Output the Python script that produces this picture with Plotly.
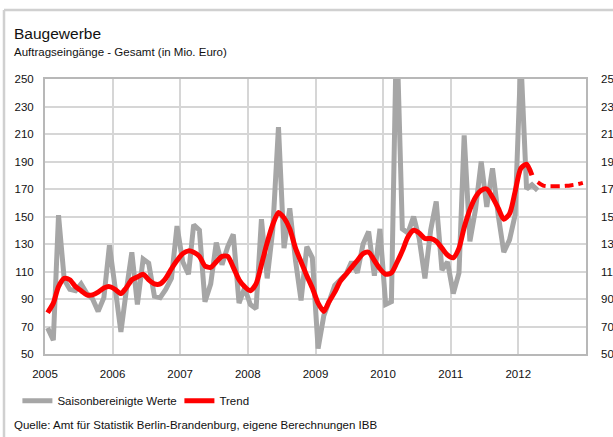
import pandas as pd
import plotly.graph_objects as go

# ---- data ----
years = [2005, 2006, 2007, 2008, 2009, 2010, 2011, 2012]
y_ticks = [50, 70, 90, 110, 130, 150, 170, 190, 210, 230, 250]

saison_values = [
    69, 60, 151, 104, 97, 96, 101, 94, 90, 81, 91, 129,        # 2005
    98, 66, 95, 124, 86, 119, 116, 92, 91, 97, 105, 143,       # 2006
    117, 108, 144, 140, 88, 101, 131, 115, 128, 137, 87, 98,   # 2007
    86, 83, 148, 105, 140, 215, 127, 156, 118, 89, 128, 120,   # 2008
    54, 78, 88, 100, 104, 108, 117, 109, 130, 139, 107, 141,   # 2009
    86, 88, 290, 141, 138, 150, 134, 105, 140, 161, 111, 117,  # 2010
    94, 109, 209, 132, 155, 190, 157, 185, 151, 124, 133, 151, # 2011
    265, 170, 173, 169,                                        # 2012
]
trend_values = [
    80, 87, 99, 105, 104, 99, 96, 93, 93, 95, 98, 99,
    97, 94, 98, 104, 106, 108, 104, 101, 101, 105, 112, 118,
    123, 125, 124, 121, 114, 113, 117, 121, 121, 113, 104, 99,
    96, 101, 115, 131, 144, 153, 149, 141, 127, 117, 107, 98,
    87, 81, 88, 95, 103, 108, 113, 118, 123, 124, 118, 112,
    108, 109, 116, 125, 135, 140, 138, 134, 134, 132, 127, 122,
    120, 127, 142, 155, 164, 169, 170, 164, 156, 148, 152, 168,
    185, 188, 180,
]
forecast_values = [175, 172.5, 172, 172, 172, 172.3, 172.8, 173.5, 174.5]

months = pd.date_range("2005-01-01", periods=96, freq="MS") + pd.Timedelta(days=14)
x_saison = months[:len(saison_values)]
x_trend = months[:len(trend_values)]
x_fc = months[len(trend_values): len(trend_values) + len(forecast_values)]

GRAY = "#a6a6a6"
RED = "#ff0000"
FONT = "Liberation Sans, Arial, sans-serif"
FS = 11.5

fig = go.Figure()
fig.add_trace(go.Scatter(x=x_saison, y=saison_values, mode="lines",
                         name="Saisonbereinigte Werte",
                         line=dict(color=GRAY, width=5)))
fig.add_trace(go.Scatter(x=x_trend, y=trend_values, mode="lines", name="Trend",
                         line=dict(color=RED, width=5, shape="spline", smoothing=0.7)))
fig.add_trace(go.Scatter(x=x_fc, y=forecast_values, mode="lines", showlegend=False,
                         line=dict(color=RED, width=4, dash="9px,5px", shape="spline", smoothing=0.7)))
# invisible trace to carry the right-hand axis
fig.add_trace(go.Scatter(x=x_saison, y=saison_values, yaxis="y2", mode="lines",
                         showlegend=False, hoverinfo="skip",
                         line=dict(color="rgba(0,0,0,0)", width=0)))

axis_common = dict(showgrid=True, gridcolor="#d6d6d6", gridwidth=1.5,
                   showline=True, linecolor="#b8b8b8", linewidth=2,
                   zeroline=False, ticks="", automargin=False,
                   tickfont=dict(family=FONT, size=FS, color="#111"))

fig.update_layout(
    width=613, height=437,
    margin=dict(l=45, r=27, t=79, b=83),
    paper_bgcolor="white", plot_bgcolor="white",
    font=dict(family=FONT, size=FS, color="#111"),
    xaxis=dict(range=["2005-01-01", "2013-01-01"],
               tickvals=[f"{y}-01-01" for y in years],
               ticktext=[str(y) for y in years],
               mirror=True, ticklabelstandoff=8, **axis_common),
    yaxis=dict(range=[50, 250], tickvals=y_ticks, mirror=True,
               ticklabelstandoff=7, **axis_common),
    yaxis2=dict(range=[50, 250], tickvals=y_ticks, overlaying="y", side="right",
                showgrid=False, showline=False, zeroline=False, ticks="",
                automargin=False, ticklabelstandoff=14,
                tickfont=dict(family=FONT, size=FS, color="#111")),
    legend=dict(orientation="h", x=-0.051, y=-0.117, xanchor="left", yanchor="top",
                font=dict(family=FONT, size=FS, color="#111"),
                bgcolor="rgba(0,0,0,0)", itemwidth=30, tracegroupgap=0,
                entrywidth=117),
    showlegend=True,
)

fig.add_annotation(text="Baugewerbe", xref="paper", yref="paper",
                   x=-0.061, y=(354 - 33) / 275, xanchor="left", yanchor="middle",
                   showarrow=False, font=dict(family=FONT, size=15.5, color="#111"))
fig.add_annotation(text="Auftragseingänge - Gesamt (in Mio. Euro)", xref="paper", yref="paper",
                   x=-0.061, y=(354 - 52) / 275, xanchor="left", yanchor="middle",
                   showarrow=False, font=dict(family=FONT, size=FS, color="#111"))
fig.add_annotation(text="Quelle: Amt für Statistik Berlin-Brandenburg, eigene Berechnungen IBB",
                   xref="paper", yref="paper",
                   x=-0.061, y=(354 - 425) / 275, xanchor="left", yanchor="middle",
                   showarrow=False, font=dict(family=FONT, size=FS, color="#111"))

# outer chart frame (left and top edges visible)
fx = (4 - 45) / 541
fy = (354 - 10) / 275
fig.add_shape(type="line", xref="paper", yref="paper", x0=fx, x1=fx, y0=fy, y1=-0.4,
              line=dict(color="#d0d0d0", width=2.5))
fig.add_shape(type="line", xref="paper", yref="paper", x0=fx, x1=1.2, y0=fy, y1=fy,
              line=dict(color="#d0d0d0", width=2.5))

fig.write_html("out.html",
               config={"displayModeBar": False},
               post_script="document.body.style.margin='0';document.body.style.overflow='hidden';")
